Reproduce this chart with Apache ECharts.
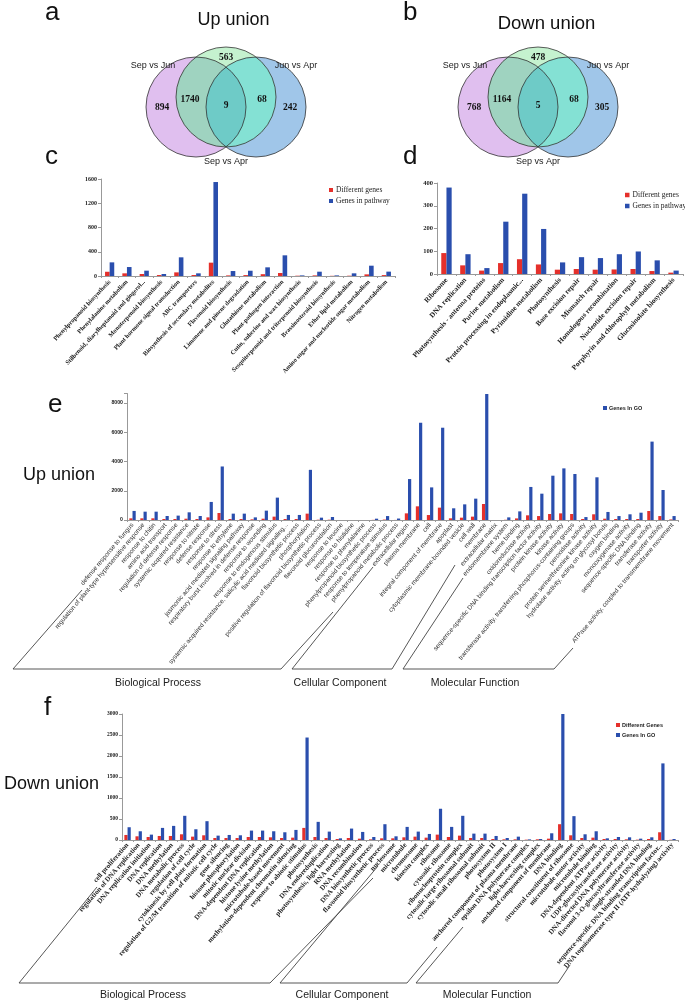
<!DOCTYPE html>
<html><head><meta charset="utf-8">
<script src="https://cdn.jsdelivr.net/npm/echarts@6/dist/echarts.min.js"></script>
<style>html,body{margin:0;padding:0;background:#fff}#c{width:685px;height:1003px}</style>
</head><body><div id="c"></div>
<script>
const SERIF = "'Liberation Serif','Times New Roman',serif";
const SANS = "'Liberation Sans',Arial,sans-serif";
const RED = '#e5302b', BLUE = '#2a4ead';

// ---------- Venn data ----------
const vennSets = ['Sep vs Jun', 'Jun vs Apr', 'Sep vs Apr'];
const vennRegions = ['Sep vs Jun only', 'Sep vs Jun & Sep vs Apr', 'all three', 'Jun vs Apr & Sep vs Apr', 'Jun vs Apr only', 'Sep vs Apr only'];
const upCounts = [894, 1740, 9, 68, 242, 563];
const downCounts = [768, 1164, 5, 68, 305, 478];

// ---------- KEGG (c, d) ----------
const cCats = ['Phenylpropanoid biosynthesis','Phenylalanine metabolism','Stilbenoid, diarylheptanoid and gingerol...','Monoterpenoid biosynthesis','Plant hormone signal transduction','ABC transporters','Biosynthesis of secondary metabolites','Flavonoid biosynthesis','Limonene and pinene degradation','Glutathione metabolism','Plant-pathogen interaction','Cutin, suberine and wax biosynthesis','Sesquiterpenoid and triterpenoid biosynthesis','Brassinosteroid biosynthesis','Ether lipid metabolism','Amino sugar and nucleotide sugar metabolism','Nitrogen metabolism'];
const cDiff = [70, 44, 33, 16, 60, 16, 220, 10, 15, 30, 50, 5, 10, 3, 5, 27, 15];
const cPath = [225, 148, 88, 33, 308, 44, 1550, 82, 87, 143, 341, 10, 71, 10, 44, 170, 72];

const dCats = ['Ribosome','DNA replication','Photosynthesis - antenna proteins','Purine metabolism','Protein processing in endoplasmic...','Pyrimidine metabolism','Photosynthesis','Base excision repair','Mismatch repair','Homologous recombination','Nucleotide excision repair','Porphyrin and chlorophyll metabolism','Glucosinolate biosynthesis'];
const dDiff = [92, 38, 15, 48, 65, 42, 19, 22, 19, 20, 22, 13, 6];
const dPath = [380, 87, 26, 230, 353, 198, 51, 74, 70, 87, 99, 60, 15];

// ---------- GO up (e) ----------
const eCats = ['defense response to fungus','regulation of plant-type hypersensitive response','response to chitin','amino acid transport','regulation of defense response','systemic acquired resistance','response to nitrate','defense response','response to stress','response to ethylene','jasmonic acid mediated signaling pathway','respiratory burst involved in defense response','response to wounding','response to endogenous stimulus','systemic acquired resistance, salicylic acid mediated signaling...','flavonoid biosynthetic process','phosphorylation','positive regulation of flavonoid biosynthetic process','flavonoid glucuronidation','response to leucine','response to histidine','response to phenylalanine','phenylpropanoid biosynthetic process','response to temperature stimulus','phenylpropanoid metabolic process',
 'extracellular region','plasma membrane','cell','integral component of membrane','apoplast','cytoplasmic membrane-bounded vesicle','cell wall','membrane','extracellular matrix','endomembrane system',
 'heme binding','oxidoreductase activity','sequence-specific DNA binding transcription factor activity','protein kinase activity','kinase activity','transferase activity, transferring phosphorus-containing groups','peroxidase activity','protein serine/threonine kinase activity','hydrolase activity, acting on glycosyl bonds','oxygen binding','monooxygenase activity','sequence-specific DNA binding','transferase activity','transporter activity','ATPase activity, coupled to transmembrane movement'];
const eDiff = [115,115,115,70,70,90,70,180,480,70,70,45,90,230,70,70,435,20,20,0,0,0,10,30,5,
 455,935,340,845,115,160,230,1095,0,15,
 110,320,270,410,455,410,70,390,90,70,70,70,615,270,40];
const eGO = [620,570,570,275,300,525,275,1235,3660,435,435,180,640,1530,345,345,3430,160,205,0,0,0,90,270,100,
 2800,6650,2230,6310,800,1070,1460,8615,0,180,
 590,2260,1800,3030,3530,3145,200,2920,550,270,390,500,5360,2050,270];

// ---------- GO down (f) ----------
const fCats = ['cell proliferation','regulation of DNA replication','DNA replication initiation','DNA replication','DNA methylation','DNA metabolic process','regulation of cell cycle','cytokinesis by cell plate formation','regulation of G2/M transition of mitotic cell cycle','gene silencing','histone phosphorylation','mitotic nuclear division','DNA-dependent DNA replication','histone lysine methylation','microtubule-based movement','methylation-dependent chromatin silencing','response to abiotic stimulus','photosynthesis','DNA endoreduplication','photosynthesis, light harvesting','RNA methylation','DNA recombination','DNA biosynthetic process','flavonoid biosynthetic process',
 'nucleosome','microtubule','chromosome','kinesin complex','ribosome','cytosolic ribosome','ribonucleoprotein complex','cytosolic large ribosomal subunit','cytosolic small ribosomal subunit','photosystem II','photosystem I','anchored component of plasma membrane','epsilon DNA polymerase complex','light-harvesting complex','anchored component of membrane',
 'DNA binding','structural constituent of ribosome','microtubule motor activity','microtubule binding','DNA-dependent ATPase activity','UDP-glucosyltransferase activity','DNA-directed DNA polymerase activity','flavonol 3-O-glucosyltransferase activity','single-stranded DNA binding','sequence-specific DNA binding transcription factor...','DNA topoisomerase type II (ATP-hydrolyzing) activity'];
const fDiff = [120,88,72,96,96,136,80,112,48,48,48,72,72,64,48,56,288,72,48,24,48,32,16,40,
 40,64,80,56,128,72,104,48,48,24,16,16,8,16,32,
 376,112,48,56,24,24,16,8,24,184,5];
const fGO = [304,208,128,288,336,576,256,448,104,120,112,224,224,208,184,240,2440,432,200,40,272,192,72,376,
 88,312,200,144,744,312,576,152,152,96,48,80,15,24,160,
 3000,568,136,208,40,72,64,32,64,1824,24];

// ---------- Venn layout (units: circle radius = 1) ----------
const vennCircles = [[-0.6, -0.1], [0.6, -0.1], [0, 0.1]]; // Sep vs Jun, Jun vs Apr, Sep vs Apr
const vennRegionPos = [[-1.28,-0.12],[-0.72,0.04],[0,-0.08],[0.72,0.04],[1.28,-0.12],[0,0.88]];
const vennSetPos = [[-1.46,0.72],[1.4,0.72],[0,-1.2]];

function inter(c1, c2, r) {
  const dx = c2[0]-c1[0], dy = c2[1]-c1[1];
  const d = Math.hypot(dx, dy);
  const h = Math.sqrt(Math.max(0, r*r - d*d/4));
  const mx = (c1[0]+c2[0])/2, my = (c1[1]+c2[1])/2;
  const ux = -dy/d, uy = dx/d;
  return [[mx+ux*h, my+uy*h], [mx-ux*h, my-uy*h]];
}
function lensPath(c1, c2, r) {
  const pts = inter(c1, c2, r);
  const cx = (pts[0][0]+pts[1][0])/2, cy = (pts[0][1]+pts[1][1])/2;
  pts.sort((p,q)=>Math.atan2(p[1]-cy,p[0]-cx)-Math.atan2(q[1]-cy,q[0]-cx));
  return 'M'+pts[0][0]+' '+pts[0][1]+' A'+r+' '+r+' 0 0 1 '+pts[1][0]+' '+pts[1][1]+' A'+r+' '+r+' 0 0 1 '+pts[0][0]+' '+pts[0][1]+' Z';
}
function vennRender(params, api) {
  const r = api.size([1,1])[0];
  const A = api.coord(vennCircles[0]), B = api.coord(vennCircles[1]), C = api.coord(vennCircles[2]);
  const circ = (p, fill, stroke) => ({type:'circle', shape:{cx:p[0], cy:p[1], r:r}, style:{fill:fill, stroke:stroke, lineWidth:0.8}});
  const lens = (p, q, fill) => ({type:'path', shape:{pathData:lensPath(p, q, r)}, style:{fill:fill}});
  return {type:'group', children:[
    circ(A, '#e0bfef', null), circ(B, '#a0c6e9', null), circ(C, '#c5f2cf', null),
    lens(A, C, '#9fd3c0'), lens(B, C, '#84e1d4'), lens(A, B, '#6ecbc7'),
    circ(A, 'none', '#333'), circ(B, 'none', '#333'), circ(C, 'none', '#333')
  ]};
}
function vennSeries(idx, counts) {
  return [
    {type:'custom', xAxisIndex:idx, yAxisIndex:idx, data:[[0,0]], renderItem:vennRender, silent:true},
    {type:'custom', xAxisIndex:idx, yAxisIndex:idx, silent:true,
     data: counts.map((c,i)=>[vennRegionPos[i][0], vennRegionPos[i][1], c]),
     renderItem:(params, api)=>{ const p = api.coord([api.value(0), api.value(1)]);
       return {type:'text', x:p[0], y:p[1], style:{text:String(api.value(2)), font:'bold 9.5px '+SERIF, fill:'#111', textAlign:'center', textVerticalAlign:'middle', align:'center', verticalAlign:'middle'}}; }},
    {type:'custom', xAxisIndex:idx, yAxisIndex:idx, silent:true,
     data: vennSets.map((s,i)=>[vennSetPos[i][0], vennSetPos[i][1]]),
     renderItem:(params, api)=>{ const p = api.coord([api.value(0), api.value(1)]);
       return {type:'text', x:p[0], y:p[1], style:{text:vennSets[params.dataIndex], font:'9px '+SANS, fill:'#222', textAlign:'center', textVerticalAlign:'middle', align:'center', verticalAlign:'middle'}}; }}
  ];
}

const hidden = (g, min, max) => ({type:'value', gridIndex:g, min, max, show:false});
const catAxis = (g, cats, font, size, weight, color, margin, rot) => ({type:'category', gridIndex:g, data:cats,
  axisLine:{lineStyle:{color:'#999', width:1}}, axisTick:{show:true, length:2, lineStyle:{color:'#999'}},
  axisLabel:{interval:0, rotate:rot, fontFamily:font, fontSize:size, fontWeight:weight, color:color, margin:margin}});
const valAxis = (g, min, max, interval, font, size, weight) => ({type:'value', gridIndex:g, min, max, interval,
  splitLine:{show:false}, axisLine:{show:true, lineStyle:{color:'#999'}}, axisTick:{show:true, length:3, lineStyle:{color:'#999'}},
  axisLabel:{fontFamily:font, fontSize:size, fontWeight:weight, color:'#222', margin:4, formatter:v => (v % interval === 0 ? String(v) : '')}});

const bar = (name, g, data, color, w) => ({type:'bar', name, xAxisIndex:g, yAxisIndex:g, data, barWidth:w, barGap:'0%', itemStyle:{color}, silent:true});

function txt(text, x, y, font, align, color) {
  return {type:'text', x, y, silent:true, style:{text, font, fill:color||'#111', textAlign:align||'left', textVerticalAlign:'middle', align:align||'left', verticalAlign:'middle'}};
}
function line(points) {
  return {type:'polyline', silent:true, shape:{points}, style:{stroke:'#444', lineWidth:0.9, fill:null}};
}

const option = {
  animation:false,
  grid:[
    {left:126, top:22, width:200, height:160},
    {left:438, top:22, width:200, height:160},
    {left:101, top:179, width:294, height:97},
    {left:437, top:183, width:246, height:91},
    {left:127, top:393.5, width:551, height:126.5},
    {left:122, top:714, width:556, height:126}
  ],
  xAxis:[ hidden(0,-2,2), hidden(1,-2,2),
    catAxis(2, cCats, SERIF, 6.3, 'bold', '#222', 5, 47),
    catAxis(3, dCats, SERIF, 7.3, 'bold', '#222', 5, 48),
    catAxis(4, eCats, SANS, 6.4, 'normal', '#333', 4, 50),
    catAxis(5, fCats, SERIF, 7, 'bold', '#222', 4, 49)
  ],
  yAxis:[ hidden(0,-1.6,1.6), hidden(1,-1.6,1.6),
    valAxis(2, 0, 1600, 400, SERIF, 6, 'bold'),
    valAxis(3, 0, 400, 100, SERIF, 6.5, 'bold'),
    valAxis(4, 0, 8650, 2000, SANS, 5.2, 'bold'),
    valAxis(5, 0, 3000, 500, SERIF, 5.5, 'bold')
  ],
  legend:[
    {data:['Different genes','Genes in pathway'], orient:'vertical', left:324, top:181, itemWidth:4, itemHeight:4, itemGap:3, icon:'rect', selectedMode:false, textStyle:{fontFamily:SERIF, fontSize:7.5, color:'#222', padding:[0,0,0,-2]}},
    {data:['Different genes','Genes in pathway'], orient:'vertical', left:620, top:186, itemWidth:4.5, itemHeight:4.5, itemGap:3, icon:'rect', selectedMode:false, textStyle:{fontFamily:SERIF, fontSize:7.5, color:'#222', padding:[0,0,0,-2]}},
    {data:['Genes In GO'], orient:'vertical', left:598, top:400, itemWidth:4, itemHeight:4, icon:'rect', selectedMode:false, textStyle:{fontFamily:SANS, fontSize:5.5, fontWeight:'bold', color:'#222', padding:[0,0,0,-3]}},
    {data:['Different Genes','Genes In GO'], orient:'vertical', left:611, top:717, itemWidth:4, itemHeight:4, itemGap:4, icon:'rect', selectedMode:false, textStyle:{fontFamily:SANS, fontSize:5.5, fontWeight:'bold', color:'#222', padding:[0,0,0,-3]}}
  ],
  series:[
    ...vennSeries(0, upCounts),
    ...vennSeries(1, downCounts),
    bar('Different genes', 2, cDiff, RED, 4.6), bar('Genes in pathway', 2, cPath, BLUE, 4.6),
    bar('Different genes', 3, dDiff, RED, 5.2), bar('Genes in pathway', 3, dPath, BLUE, 5.2),
    bar('Different Genes', 4, eDiff, RED, 3.2), bar('Genes In GO', 4, eGO, BLUE, 3.2),
    bar('Different Genes', 5, fDiff, RED, 3.2), bar('Genes In GO', 5, fGO, BLUE, 3.2)
  ],
  graphic:[
    txt('a', 45, 13, '26px '+SANS, 'left'),
    txt('b', 403, 13, '26px '+SANS, 'left'),
    txt('c', 45, 157, '26px '+SANS, 'left'),
    txt('d', 403, 157, '26px '+SANS, 'left'),
    txt('e', 48, 405, '26px '+SANS, 'left'),
    txt('f', 44, 708, '26px '+SANS, 'left'),
    txt('Up union', 233.5, 20, '18px '+SANS, 'center'),
    txt('Down union', 546.5, 23.5, '18.5px '+SANS, 'center'),
    txt('Up union', 95, 475, '18px '+SANS, 'right'),
    txt('Down union', 99, 784, '18px '+SANS, 'right'),
    txt('Biological Process', 158, 683, '10.5px '+SANS, 'center', '#222'),
    txt('Cellular Component', 340, 683, '10.5px '+SANS, 'center', '#222'),
    txt('Molecular Function', 475, 683, '10.5px '+SANS, 'center', '#222'),
    txt('Biological Process', 143, 995, '10.5px '+SANS, 'center', '#222'),
    txt('Cellular Component', 342, 995, '10.5px '+SANS, 'center', '#222'),
    txt('Molecular Function', 487, 995, '10.5px '+SANS, 'center', '#222'),
    line([[82,590],[13,669],[281,669],[333,612]]),
    line([[373,567],[292,669],[392,669],[455,565]]),
    line([[463,578],[403,669],[554,669],[573,648]]),
    line([[97,887],[19,983],[270,983],[373,878]]),
    line([[378,866],[280,983],[407,983],[437,947]]),
    line([[463,927],[416,983],[558,983],[570,965]])
  ]
};
const chart = echarts.init(document.getElementById('c'));
chart.setOption(option);
</script></body></html>
